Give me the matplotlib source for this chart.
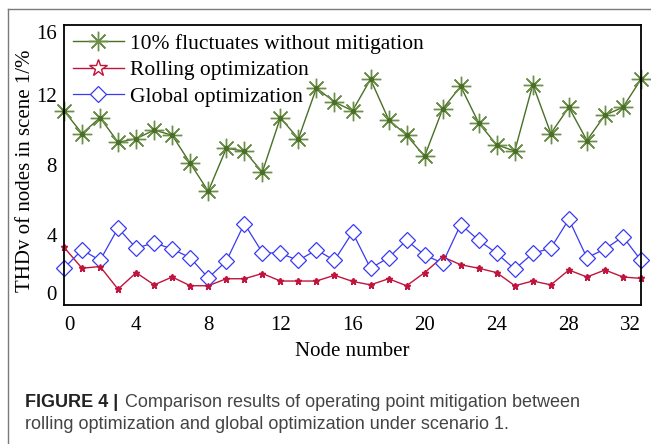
import matplotlib.pyplot as plt
from matplotlib.lines import Line2D

nodes = list(range(33))
no_mitigation = [11.1, 9.8, 10.7, 9.3, 9.5, 10.0, 9.7, 8.1, 6.5, 8.95, 8.8, 7.6,
                 10.7, 9.5, 12.4, 11.6, 11.1, 12.9, 10.6, 9.7, 8.5, 11.2, 12.5,
                 10.4, 9.15, 8.8, 12.6, 9.8, 11.3, 9.4, 10.85, 11.3, 12.9]
rolling = [3.3, 2.1, 2.2, 0.9, 1.85, 1.15, 1.6, 1.1, 1.1, 1.5, 1.5, 1.8,
           1.37, 1.37, 1.37, 1.7, 1.35, 1.15, 1.5, 1.1, 1.85, 2.75, 2.3,
           2.1, 1.85, 1.1, 1.37, 1.15, 2.0, 1.6, 2.0, 1.6, 1.52]
global_opt = [2.1, 3.15, 2.55, 4.4, 3.25, 3.55, 3.2, 2.7, 1.55, 2.5, 4.65, 3.0,
              2.95, 2.55, 3.15, 2.55, 4.15, 2.1, 2.7, 3.7, 2.85, 2.4, 4.6,
              3.7, 2.95, 2.05, 2.95, 3.25, 4.9, 2.7, 3.2, 3.9, 2.55]
xticks = [0, 4, 8, 12, 16, 20, 24, 28, 32]
yticks = [0, 4, 8, 12, 16]

green = '#4a6f27'
red = '#c0143c'
blue = '#3a3af0'
serif = 'Liberation Serif'

fig = plt.figure(figsize=(6.51, 4.44), dpi=100)

# caption frame (gray lines at top and left)
fig.add_artist(Line2D([8 / 651, 1.0], [1 - 9 / 444] * 2, color='#7a7a7a', lw=1,
                      transform=fig.transFigure))
fig.add_artist(Line2D([8 / 651] * 2, [0, 1 - 9 / 444], color='#7a7a7a', lw=1,
                      transform=fig.transFigure))

ax = fig.add_axes([64 / 651, 1 - 305 / 444, 577 / 651, 280 / 444])

ax.plot(nodes, no_mitigation, color=green, lw=1, marker=(8, 2, 0),
        markersize=14, markeredgewidth=1, markeredgecolor='#6d8f4a', clip_on=False)
ax.plot(nodes, no_mitigation, color=green, lw=0, marker='o', markersize=3,
        clip_on=False)
ax.plot(nodes, rolling, color=red, lw=1, marker='*', markersize=5,
        clip_on=False)
ax.plot(nodes, global_opt, color=blue, lw=0.9, marker='D', markersize=8,
        markerfacecolor='white', markeredgecolor=blue, markeredgewidth=0.9,
        clip_on=False)
# redraw rolling on top where the lines cross
ax.plot(nodes, rolling, color=red, lw=0, marker='*', markersize=5, clip_on=False)

ax.set_xlim(0, 32)
ax.set_ylim(0, 16)
ax.set_xticks(xticks)
ax.set_yticks(yticks)
ax.tick_params(length=0, labelsize=15)
ax.tick_params(axis='x', pad=8)
ax.tick_params(axis='y', pad=5)
for lab in ax.get_xticklabels() + ax.get_yticklabels():
    lab.set_fontfamily(serif)
xl = ax.get_xticklabels()
xl[0].set_horizontalalignment('left')
xl[-1].set_horizontalalignment('right')
yl = ax.get_yticklabels()
yl[0].set_verticalalignment('bottom')
yl[-1].set_verticalalignment('top')
for s in ax.spines.values():
    s.set_linewidth(1.3)

ax.set_xlabel('Node number', fontsize=15, family=serif, labelpad=5)
ax.set_ylabel('THDv of nodes in scene 1/%', fontsize=15, family=serif)
ax.yaxis.set_label_coords(-0.05, 0.48)

handles = [
    Line2D([], [], color=green, lw=1, marker=(8, 2, 0), markersize=14,
           markeredgecolor='#6d8f4a', markeredgewidth=1),
    Line2D([], [], color=red, lw=1, marker='*', markersize=13,
           markerfacecolor='white', markeredgecolor=red, markeredgewidth=1),
    Line2D([], [], color=blue, lw=0.9, marker='D', markersize=8,
           markerfacecolor='white', markeredgecolor=blue, markeredgewidth=0.9),
]
labels = ['10% fluctuates without mitigation', 'Rolling optimization',
          'Global optimization']
ax.legend(handles, labels, loc='upper left', frameon=False,
          prop={'family': serif, 'size': 15.5}, handlelength=2.4,
          handletextpad=0.25, labelspacing=0.3, borderaxespad=0.15,
          borderpad=0.25)

# caption
fig.text(25 / 651, 1 - 402 / 444, 'FIGURE 4 |', fontsize=13, fontweight='bold',
         family='Liberation Sans', color='#222222', va='center')
fig.text(125 / 651, 1 - 402 / 444,
         'Comparison results of operating point mitigation between',
         fontsize=13, family='Liberation Sans', color='#444444', va='center')
fig.text(25 / 651, 1 - 424 / 444,
         'rolling optimization and global optimization under scenario 1.',
         fontsize=13, family='Liberation Sans', color='#444444', va='center')

fig.savefig('out.png', dpi=100)
